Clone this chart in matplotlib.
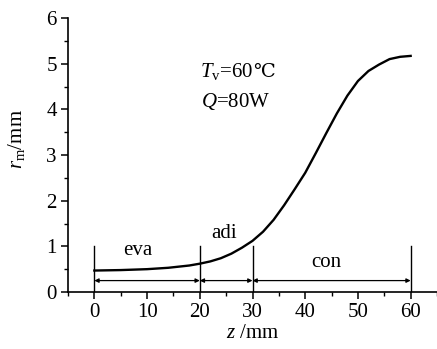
import matplotlib
matplotlib.use('Agg')
import matplotlib.pyplot as plt
from matplotlib.ticker import MultipleLocator

plt.rcParams['font.family'] = ['Liberation Serif', 'DejaVu Sans']
plt.rcParams['mathtext.fontset'] = 'custom'
plt.rcParams['mathtext.rm'] = 'Liberation Serif'
plt.rcParams['mathtext.it'] = 'Liberation Serif:italic'

# meniscus radius along the heat pipe
z = [0, 5, 10, 14, 18, 20, 22, 24, 26, 28, 30, 32, 34, 36, 38,
     40, 42, 44, 46, 48, 50, 52, 54, 56, 58, 60]
r_m = [0.47, 0.48, 0.50, 0.53, 0.58, 0.62, 0.67, 0.74, 0.84, 0.97, 1.12, 1.32,
       1.58, 1.90, 2.25, 2.61, 3.04, 3.48, 3.91, 4.30, 4.62, 4.84, 4.98, 5.10,
       5.15, 5.17]

# section boundaries and names
bounds = [0, 20, 30, 60]
sections = ['eva', 'adi', 'con']
label_pos = [(8.2, 0.91), (24.7, 1.28), (44.0, 0.64)]

FS = 15

fig = plt.figure(figsize=(4.37, 3.49), dpi=100)
ax = fig.add_axes([68 / 437, 57 / 349, 369 / 437, 274 / 349])

ax.plot(z, r_m, color='black', lw=1.7)

for b in bounds:
    ax.plot([b, b], [0, 1], color='black', lw=1.0)
for a, b in zip(bounds[:-1], bounds[1:]):
    ax.annotate('', xy=(b, 0.25), xytext=(a, 0.25),
                arrowprops=dict(arrowstyle='<|-|>', color='black', lw=0.9,
                                mutation_scale=6, shrinkA=0, shrinkB=0))
for name, (x, y) in zip(sections, label_pos):
    ax.text(x, y, name, ha='center', va='center', fontsize=FS)

ax.set_xlim(-5, 65)
ax.set_ylim(0, 6)

# operating conditions; the degree sign is set in a font that has it
t1 = ax.text(20.0, 4.70, r'$T_{\mathrm{v}}$=60', ha='left', va='baseline', fontsize=FS)
ax.text(20.3, 4.06, r'$Q$=80W', ha='left', va='baseline', fontsize=FS)
fig.canvas.draw()
bb = t1.get_window_extent()
x_end = ax.transData.inverted().transform((bb.x1, bb.y0))[0]
ax.text(x_end + 0.1, 4.70, '℃', ha='left', va='baseline', fontsize=FS - 1,
        family=['DejaVu Serif', 'DejaVu Sans', 'Noto Sans CJK SC'])

ax.xaxis.set_major_locator(MultipleLocator(10))
ax.xaxis.set_minor_locator(MultipleLocator(5))
ax.yaxis.set_major_locator(MultipleLocator(1))
ax.yaxis.set_minor_locator(MultipleLocator(0.5))
ax.set_xticks(range(0, 61, 10))

for s in ['top', 'right']:
    ax.spines[s].set_visible(False)
for s in ['left', 'bottom']:
    ax.spines[s].set_linewidth(1.2)
ax.tick_params(which='major', direction='out', length=5, width=1.1, labelsize=FS, pad=3)
ax.tick_params(which='minor', direction='out', length=3, width=1.0)

ax.set_xlabel(r'$z$ /mm', fontsize=FS, labelpad=1)
ax.set_ylabel(r'$r_{\mathrm{m}}$/mm', fontsize=FS)
ax.yaxis.set_label_coords(-0.11, 0.56)

fig.savefig('out.png', dpi=100)
